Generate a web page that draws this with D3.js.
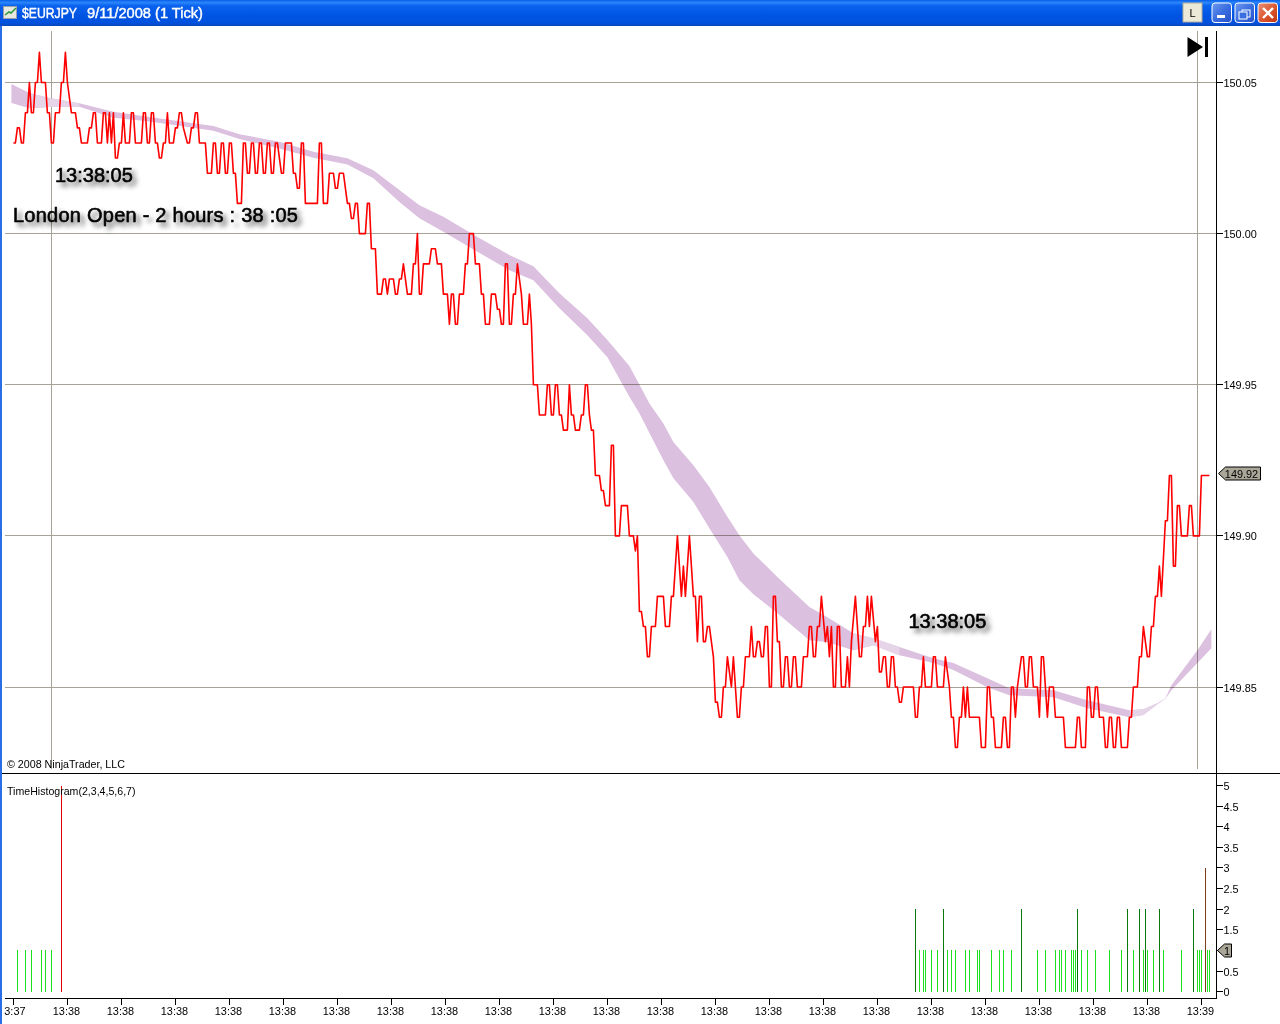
<!DOCTYPE html>
<html><head><meta charset="utf-8"><title>$EURJPY</title>
<script src="https://cdn.jsdelivr.net/npm/d3@7/dist/d3.min.js"></script>
<style>
html,body{margin:0;padding:0;background:#fff;overflow:hidden}
svg{position:absolute;left:0;top:0;display:block}
text{font-family:"Liberation Sans",Arial,sans-serif;fill:#000}
.axis text{font-size:10.9px}
.axis path,.axis line{stroke:#000;shape-rendering:crispEdges}
.big{font-size:20px;stroke:#000;stroke-width:.6px;filter:drop-shadow(4px 4px 2.5px rgba(0,0,0,.6))}
</style></head><body>
<script>
const priceBars=[
0,1,2,3,4,5,6,7,8,9,
10,11,12,13,14,16,17,18,19,20,
21,23,24,25,26,27,29,31,32,33,
34,37,38,39,40,41,42,44,45,46,
47,48,49,50,51,52,53,54,55,56,
58,59,60,61,64,65,66,67,68,69,
70,71,72,73,74,75,76,77,78,80,
81,82,83,84,85,87,88,89,90,91,
92,93,96,97,99,100,101,102,103,104,
105,106,107,108,109,110,111,112,114,115,
116,117,118,119,120,121,122,123,124,125,
126,127,128,129,130,131,132,134,135,136,
139,140,141,142,143,144,145,146,152,153,
154,155,157,158,160,161,162,163,165,167,
168,169,170,171,172,173,176,177,178,179,
181,182,184,185,186,187,188,190,191,192,
193,194,195,197,199,200,201,202,203,204,
205,208,209,211,212,214,215,217,218,219,
220,221,222,223,225,226,227,228,230,231,
233,234,235,236,238,239,241,242,243,244,
245,246,247,248,249,250,251,252,254,255,
257,258,259,260,262,263,266,267,268,269,
270,271,272,273,274,275,277,278,279,280,
281,283,284,285,286,287,288,289,290,291,
293,294,295,296,298,299,300,301,303,304,
307,308,310,311,312,313,314,315,316,317,
318,319,321,322,325,326,328,329,330,332,
334,335,336,338,340,341,342,343,344,345,
346,347,348,350,351,352,353,354,355,356,
357,359,360,362,363,364,365,366,368,369,
370,371,372,373,374,375,376,377,378,379,
380,381,382,383,384,385,386,387,388,389,
390,391,392,394,395,397,398,399,400,401,
402,403,404,406,407,408,409,410,411,412,
413,414,416,417,418,419,421,423,424,425,
426,427,428,429,431,432,433,434,435,436,
437,438,439,440,441,442,443,444,445,450,
451,452,453,454,455,456,459,460,461,462,
465,466,468,469,470,471,472,473,474,475,
476,477,478,483,484,486,487,488,489,490,
491,494,495,496,497,498,499,500,501,502,
504,505,506,507,508,509,510,512,513,514,
515,517,518,520,521,525,526,531,532,533,
534,536,537,538,539,540,541,542,543,545,
546,547,548,549,550,551,552,553,554,557,
558,559,560,562,563,564,565,567,568,569,
570,571,572,573,574,576,577,578,579,580,
581,582,583,584,587,588,589,590,593,594,
598];
// price as pips relative to 150.00
const pricePips=[
3,3,3.5,3.5,3,3,4,4,5,4,
4,5,5,6,5,5,4,4,3,3,
4,4,5,5,6,5,4,4,3.5,3.5,
3,3,3.5,3.5,4,4,3,3,4,4,
3,4,3,4,2.5,2.5,3,3,4,3,
3,4,4,3,3,4,4,3,3,4,
4,3,3,2.5,2.5,3,3,4,3,3,
3.5,3.5,4,4,3.5,3,3,3.5,3.5,4,
4,3,3,2,2,3,3,2,2,3,
3,2,2,3,3,2,2,1,1,3,
3,2,2,3,3,2,2,3,3,2,
2,3,3,2,2,3,3,2,2,3,
3,2,2,1.5,1.5,3,3,1,1,3,
3,1,1,2,2,1.5,1.5,2,2,1,
1,.5,.5,1,1,0,0,1,1,-.5,
-.5,-2,-2,-1.5,-1.5,-2,-1.5,-1.5,-2,-2,
-1.5,-1.5,-1,-2,-2,-1,-1,0,-2,-2,
-1,-1,-.5,-.5,-1,-1,-2,-2,-3,-2,
-2,-3,-3,-2,-2,-1,-1,0,0,-1,
-1,-2,-2,-3,-3,-2,-2,-2.5,-2.5,-3,
-3,-1,-1,-3,-3,-2,-2,-1,-2,-3,
-3,-2,-3,-5,-5,-6,-6,-5,-5,-6,
-6,-5,-5,-6,-6,-6.5,-6.5,-5,-6,-6,
-6.5,-6.5,-6,-6,-5,-5,-6,-6.5,-6.5,-8,
-8,-8.5,-8.5,-9,-9,-7,-7,-10,-10,-9,
-9,-10,-10,-10.5,-10,-12.5,-12.5,-13,-13,-14,
-14,-13,-13,-12,-12,-13,-13,-12,-12,-10,
-12,-11,-12,-10,-12,-12,-13.5,-12,-12,-13.5,
-13.5,-13,-13,-14,-15.5,-15.5,-16,-16,-15,-15,
-14,-15,-14,-16,-16,-15,-15,-14,-14,-13,
-14,-14,-13.5,-13.5,-14,-14,-13,-13,-15,-15,
-12,-12,-13.5,-13.5,-15,-15,-14,-14,-15,-15,
-14,-14,-15,-15,-14,-14,-13,-13,-14,-14,
-13,-13,-12,-13.5,-13,-14,-13,-15,-15,-13,
-13,-15,-15,-14,-15,-13.5,-12,-14,-14,-13,
-13,-12,-13,-12,-13.5,-13,-14.5,-14.5,-14,-14,
-15,-15,-14,-14,-15,-15,-15.5,-15.5,-15,-15,
-16,-16,-15,-15,-14,-15,-15,-14,-14,-15,
-15,-14,-15,-16,-16,-17,-17,-16,-16,-15,
-16,-15,-16,-16,-17,-17,-15,-15,-16,-16,
-17,-17,-16,-16,-17,-17,-15,-15,-16,-15,
-14,-14,-15,-15,-14,-14,-15,-15,-16,-14,
-14,-16,-15,-15,-16,-16,-17,-17,-16,-16,
-17,-17,-15,-15,-16,-16,-15,-15,-16,-16,
-17,-17,-16,-16,-17,-17,-16,-16,-17,-17,
-16,-16,-15,-15,-14,-14,-13,-14,-14,-13,
-13,-12,-12,-11,-12,-9.5,-9.5,-8,-8,-11,
-11,-9,-9,-10,-10,-9,-9,-10,-10,-8,
-8];
const bandBars=[-1,8,18,33,50,67,83,100,113,133,150,167,180,193,203,215,232,248,260,273,287,297,308,313,318,325,330,340,348,357,363,370,382,398,407,420,430,443,460,470,487,498,520,537,558,565,572,576,579,592,599];
const bandUpper=[4.95,4.65,4.49,4.31,4.03,3.87,3.72,3.56,3.29,3.04,2.71,2.49,2.10,1.44,.94,.56,-.11,-.71,-1.08,-1.97,-2.8,-3.52,-4.38,-4.99,-5.62,-6.28,-6.89,-7.66,-8.38,-9.37,-9.98,-10.58,-11.36,-12.35,-12.69,-13.22,-13.39,-13.68,-14.05,-14.21,-14.71,-15.04,-15.11,-15.44,-15.77,-15.74,-15.54,-15.37,-14.94,-13.78,-13.09];
const bandLower=[4.32,4.15,4.19,4.20,3.83,3.72,3.57,3.40,3.13,2.82,2.51,2.29,1.83,1.05,.51,.06,-.6,-1.21,-1.54,-2.47,-3.36,-4.09,-5.40,-5.94,-6.60,-7.50,-8.09,-8.88,-9.75,-10.70,-11.47,-11.93,-12.56,-13.45,-13.52,-13.78,-13.62,-13.95,-14.21,-14.44,-15.01,-15.27,-15.34,-15.70,-16,-15.93,-15.57,-15.39,-15.11,-14.21,-13.72];
const bandPaleSpans=[[8,33],[420,443],[558,572]];
const histBars=[2,6,9,14,16,19,24,451,453,455,456,459,462,465,467,469,471,476,478,482,483,489,493,495,499,504,512,516,521,523,524,526,529,530,531,532,534,537,541,548,554,557,560,563,565,566,567,570,573,575,584,590,592,593,594,596,597,598];
const histValues=[1,1,1,1,1,1,5,2,1,1,1,1,1,2,1,1,1,1,1,1,1,1,1,1,1,2,1,1,1,1,1,1,1,1,1,2,1,1,1,1,1,2,1,2,1,2,1,1,2,1,1,2,1,1,1,3,1,1];
const priceTicks=[149.85,149.90,149.95,150.00,150.05];
const histTicks=[0,.5,1,1.5,2,2.5,3,3.5,4,4.5,5];
const timeTickBars=d3.range(0,23).map(i=>i*27);
const timeTickLabels=["3:37","13:38","13:38","13:38","13:38","13:38","13:38","13:38","13:38","13:38","13:38","13:38","13:38","13:38","13:38","13:38","13:38","13:38","13:38","13:38","13:38","13:38","13:39"];
const lastPrice=149.92, lastHist=1;
const titleSymbol="$EURJPY", titleRest="9/11/2008 (1 Tick)";
const histColors={1:"#1fe01f",2:"#0b780b",3:"#7c3f1e",5:"#e00000"};

const svg=d3.select("body").append("svg").attr("width",1280).attr("height",1024);
const x=d3.scaleLinear().domain([0,598]).range([13.4,1209.4]);
const y=d3.scaleLinear().domain([149.85,150.05]).range([687,82.5]);
const yh=d3.scaleLinear().domain([0,5]).range([991.7,785.5]);
const pip=p=>150+p/100;
const row=v=>Math.floor(v)+.5;

// window chrome
const defs=svg.append("defs");
const g=defs.append("linearGradient").attr("id","tb").attr("x1",0).attr("x2",0).attr("y1",0).attr("y2",1);
[[0,"#0a5fe8"],[.1,"#2a86fb"],[.22,"#0a62ee"],[.6,"#0054e3"],[.88,"#0052de"],[1,"#0a46b8"]].forEach(s=>g.append("stop").attr("offset",s[0]).attr("stop-color",s[1]));
const rg=defs.append("linearGradient").attr("id","cl").attr("x1",0).attr("x2",1).attr("y1",0).attr("y2",1);
[[0,"#e8917a"],[.5,"#dd5a32"],[1,"#c03310"]].forEach(s=>rg.append("stop").attr("offset",s[0]).attr("stop-color",s[1]));
const bg=defs.append("linearGradient").attr("id","bt").attr("x1",0).attr("x2",1).attr("y1",0).attr("y2",1);
[[0,"#6f9af0"],[.5,"#3a6ee0"],[1,"#2650c8"]].forEach(s=>bg.append("stop").attr("offset",s[0]).attr("stop-color",s[1]));
svg.append("rect").attr("x",0).attr("y",0).attr("width",1280).attr("height",26).attr("fill","url(#tb)");
svg.append("rect").attr("x",0).attr("y",26).attr("width",2).attr("height",998).attr("fill","#2a6ee6");
const ic=svg.append("g");
ic.append("rect").attr("x",3.5).attr("y",6.5).attr("width",13).attr("height",12).attr("fill","#e8e8e0").attr("stroke","#9aa0a8");
ic.append("path").attr("d","M5 15L9 12L11 13L16 8").attr("fill","none").attr("stroke","#2a9a3a").attr("stroke-width",1.5);
const tt=svg.append("text").attr("y",18).style("font-size","14px").style("fill","#fff").style("stroke","#fff").style("stroke-width",".4px");
tt.append("tspan").attr("x",22).attr("textLength",55).attr("lengthAdjust","spacingAndGlyphs").text(titleSymbol);
tt.append("tspan").attr("x",87).attr("textLength",116).attr("lengthAdjust","spacingAndGlyphs").text(titleRest);
svg.append("rect").attr("x",1183).attr("y",3).attr("width",19).attr("height",19).attr("fill","#ece9d8").attr("stroke","#b0ab98");
svg.append("text").attr("x",1192.5).attr("y",17).attr("text-anchor","middle").style("font-size","11px").text("L");
[[1212,"url(#bt)"],[1235,"url(#bt)"],[1258,"url(#cl)"]].forEach(b=>svg.append("rect").attr("x",b[0]).attr("y",3).attr("width",19.5).attr("height",19.5).attr("rx",3).attr("fill",b[1]).attr("stroke","#fff"));
svg.append("rect").attr("x",1217).attr("y",15).attr("width",8).attr("height",3).attr("fill","#fff");
svg.append("rect").attr("x",1242).attr("y",10).attr("width",8).attr("height",7).attr("fill","none").attr("stroke","#fff");
svg.append("rect").attr("x",1239).attr("y",12).attr("width",8).attr("height",7).attr("fill","#3a6ee0").attr("stroke","#fff");
svg.append("path").attr("d","M1263 8L1273 18M1273 8L1263 18").attr("stroke","#fff").attr("stroke-width",2.4);

// grid
svg.append("g").selectAll("line").data(priceTicks).join("line")
 .attr("x1",5).attr("x2",1216).attr("y1",d=>row(y(d))).attr("y2",d=>row(y(d))).attr("stroke","#a6a396").attr("shape-rendering","crispEdges");
svg.append("g").selectAll("line").data([19,592]).join("line")
 .attr("x1",d=>row(x(d))).attr("x2",d=>row(x(d))).attr("y1",31).attr("y2",769).attr("stroke","#a6a396").attr("shape-rendering","crispEdges");

// ribbon
const bandData=bandBars.map((b,i)=>({b,u:pip(bandUpper[i]),l:pip(bandLower[i])}));
const area=d3.area().x(d=>x(d.b)).y0(d=>y(d.l)).y1(d=>y(d.u));
svg.append("path").datum(bandData).attr("d",area).attr("fill","#dcc0df").attr("style","mix-blend-mode:multiply");
bandPaleSpans.forEach(s=>svg.append("path").datum(bandData.filter(d=>d.b>=s[0]&&d.b<=s[1])).attr("d",area).attr("fill","#e6d4e8"));

// price line
const line=d3.line().x((d,i)=>x(priceBars[i])).y(d=>y(pip(d)));
svg.append("path").datum(pricePips).attr("d",line).attr("fill","none").attr("stroke","#ff0000").attr("stroke-width",1.6).attr("stroke-linejoin","round");

// histogram
svg.append("g").selectAll("line").data(histBars).join("line")
 .attr("x1",d=>row(x(d))).attr("x2",d=>row(x(d))).attr("y1",yh(0)).attr("y2",(d,i)=>yh(histValues[i]))
 .attr("stroke",(d,i)=>histColors[histValues[i]]).attr("shape-rendering","crispEdges");

// axes
const ya=svg.append("g").attr("class","axis").attr("transform","translate(1216.5,0)")
 .call(d3.axisRight(y).offset(0).tickValues(priceTicks).tickFormat(d3.format(".2f")).tickSize(6).tickPadding(1));
ya.select(".domain").remove();
ya.selectAll(".tick").attr("transform",d=>`translate(0,${row(y(d))})`);
ya.selectAll(".tick text").attr("y",1);
svg.append("line").attr("x1",1216.5).attr("x2",1216.5).attr("y1",31).attr("y2",998).attr("stroke","#000").attr("shape-rendering","crispEdges");
const yb=svg.append("g").attr("class","axis").attr("transform","translate(1216.5,0)")
 .call(d3.axisRight(yh).offset(0).tickValues(histTicks).tickFormat(d=>d===lastHist?"":d3.format("")(d)).tickSize(6).tickPadding(1));
yb.select(".domain").remove();
yb.selectAll(".tick").attr("transform",d=>`translate(0,${row(yh(d))})`);
yb.selectAll(".tick text").attr("y",1);
const xa=svg.append("g").attr("class","axis").attr("transform","translate(0,998.5)")
 .call(d3.axisBottom(x).offset(0).tickValues(timeTickBars).tickFormat((d,i)=>timeTickLabels[i]).tickSize(6).tickPadding(2));
xa.select(".domain").remove();
xa.selectAll(".tick text").attr("dy","8.5").attr("x",-1).filter((d,i)=>i===0).attr("x",1.5);
svg.append("line").attr("x1",5).attr("x2",1216.5).attr("y1",998.5).attr("y2",998.5).attr("stroke","#000").attr("shape-rendering","crispEdges");
svg.append("line").attr("x1",2).attr("x2",1280).attr("y1",773.5).attr("y2",773.5).attr("stroke","#000").attr("shape-rendering","crispEdges");

// value tags
const yl=Math.round(y(lastPrice))-1.5;
svg.append("path").attr("d",`M1218.5 ${yl}L1225.5 ${yl-6.5}H1260.5V${yl+6.5}H1225.5Z`).attr("fill","#aaa698").attr("stroke","#000");
svg.append("text").attr("x",1241.5).attr("y",yl+4).attr("text-anchor","middle").style("font-size","10.9px").text("149.92");
const yv=row(yh(lastHist));
svg.append("path").attr("d",`M1217.5 ${yv}L1224.5 ${yv-6.5}H1231.5V${yv+6.5}H1224.5Z`).attr("fill","#aaa698").attr("stroke","#000");
svg.append("text").attr("x",1227).attr("y",yv+4).attr("text-anchor","middle").style("font-size","10.9px").text(lastHist);

// jump-to-end glyph
svg.append("path").attr("d","M1187.5 37L1203 47L1187.5 57Z").attr("fill","#000");
svg.append("rect").attr("x",1205).attr("y",37).attr("width",3).attr("height",20).attr("fill","#000");

// annotations
[["13:38:05",55,182,0],["London Open - 2 hours : 38 :05",13,222,.24],["13:38:05",908.5,627.5,0]].forEach(t=>
 svg.append("text").attr("class","big").attr("x",t[1]).attr("y",t[2]).style("letter-spacing",t[3]+"px").text(t[0]));
svg.append("text").attr("x",7).attr("y",768).style("font-size","10.7px").text("© 2008 NinjaTrader, LLC");
svg.append("text").attr("x",7).attr("y",795).style("font-size","10.6px").text("TimeHistogram(2,3,4,5,6,7)");
</script></body></html>
